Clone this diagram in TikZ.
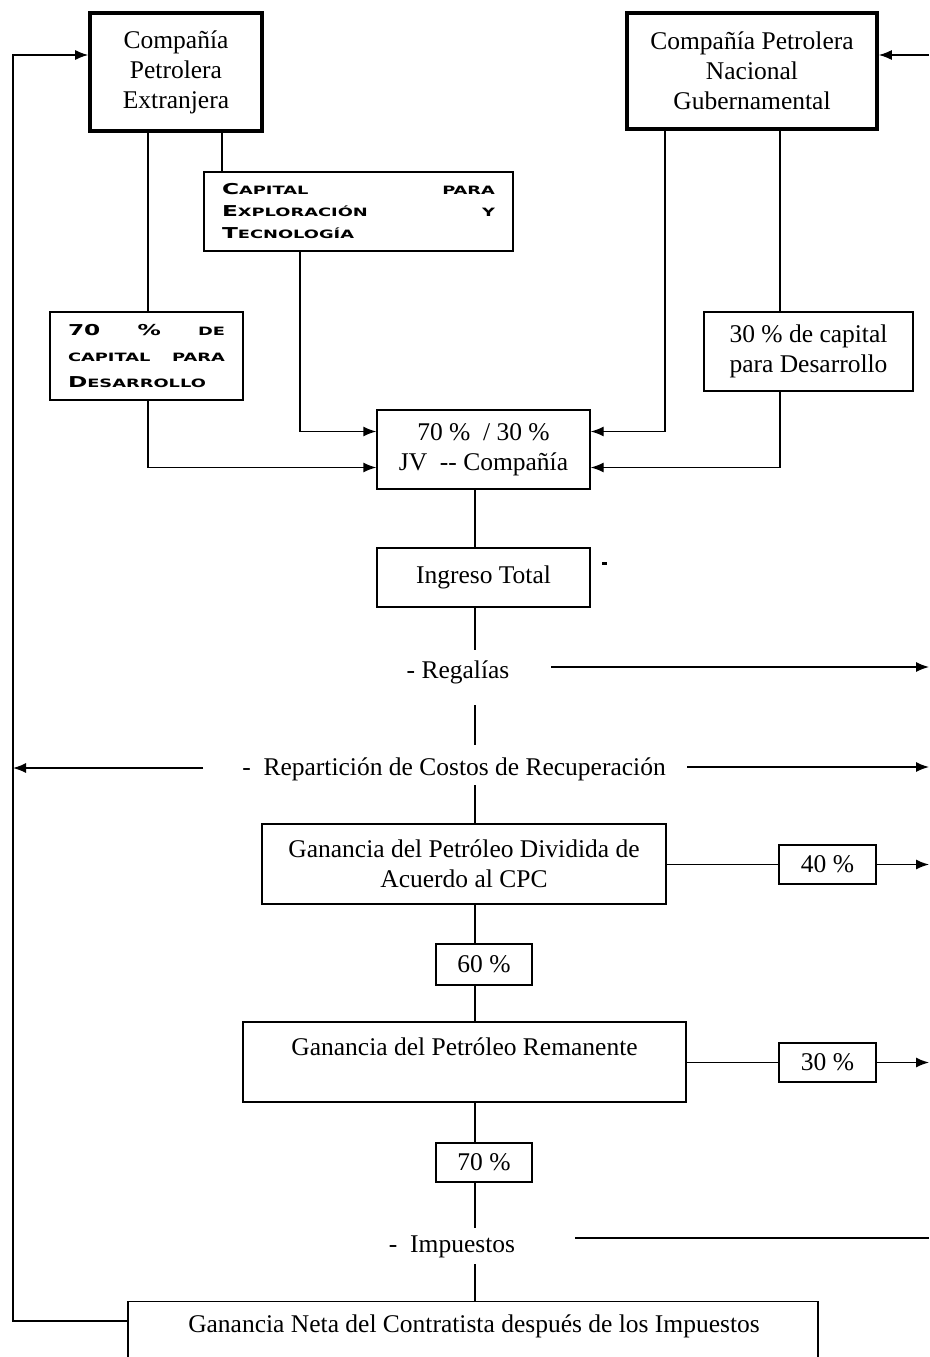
\documentclass[tikz,border=0pt]{standalone}
\usepackage{fontspec}
\setmainfont{Liberation Serif}
\newfontfamily\capsf[FakeStretch=1.55,UprightFont=* Bold]{DejaVu Sans}
\usetikzlibrary{arrows.meta,calc}
\newcommand{\bcap}[1]{{\fontsize{15}{15}\selectfont #1}}
\tikzset{
  box/.style={draw, line width=1.4pt, inner sep=0pt, align=center, font=\fontsize{25.5}{30}\selectfont},
  heavy/.style={box, line width=3.6pt},
  txt/.style={inner sep=0pt, font=\fontsize{25.5}{30}\selectfont},
  conn/.style={line width=1.4pt},
  arr/.style={conn, -{Latex[length=13pt,width=10pt]}},
}
\begin{document}
\begin{tikzpicture}[x=1pt,y=-1pt]
\clip (0,0) rectangle (929,1357);
\fill[white] (0,0) rectangle (929,1357);

% nodes
\node[heavy, minimum width=172, minimum height=118] (ext) at (176,72) {Compañía\\Petrolera\\Extranjera};
\node[heavy, minimum width=250, minimum height=116] (gov) at (752,71) {Compañía Petrolera\\Nacional\\Gubernamental};
\node[box, text width=273, inner xsep=18pt, minimum height=79, align=left,
      font=\capsf\fontsize{11.5}{22}\selectfont] (cap) at (358.5,211.5)
      {\bcap{C}APITAL\hfill PARA\\\bcap{E}XPLORACIÓN\hfill Y\\\bcap{T}ECNOLOGÍA};
\node[box, text width=157, inner xsep=18pt, minimum height=88, align=left,
      font=\capsf\fontsize{11.5}{26}\selectfont] (p70) at (146.5,356)
      {\bcap{70}\hfill\bcap{\%}\hfill DE\\CAPITAL\hfill PARA\\\bcap{D}ESARROLLO};
\node[box, minimum width=209, minimum height=79] (p30) at (808.5,351.5) {30 \% de capital\\para Desarrollo};
\node[box, minimum width=213, minimum height=79] (jv) at (483.5,449.5) {70 \%\ \ / 30 \%\\JV\ \ -{}- Compañía};
\node[box, minimum width=213, minimum height=59] (ing) at (483.5,577.5) {Ingreso Total};
\node[txt] (reg) at (458,672) {- Regalías};
\node[txt] (rep) at (454,769) {-\ \ Repartición de Costos de Recuperación};
\node[box, minimum width=404, minimum height=80] (gdiv) at (464,864) {Ganancia del Petróleo Dividida de\\Acuerdo al CPC};
\node[box, minimum width=97, minimum height=39] (p40) at (827.5,864.5) {40 \%};
\node[box, minimum width=96, minimum height=41] (p60) at (484,964.5) {60 \%};
\node[box, minimum width=443, minimum height=80] (rem) at (464.5,1062) {};
\node[txt] (remt) at (464.5,1047) {Ganancia del Petróleo Remanente};
\node[box, minimum width=97, minimum height=39] (p30b) at (827.5,1062.5) {30 \%};
\node[box, minimum width=96, minimum height=39] (p70b) at (484,1162.5) {70 \%};
\node[txt] (imp) at (452,1247) {-\ \ Impuestos};
\node[box, minimum width=690, minimum height=79, anchor=north] (net) at (473,1301) {};
\node[txt] (nett) at (474,1326) {Ganancia Neta del Contratista después de los Impuestos};

% stray mark
\fill (602,562) rectangle (607,564.5);

% coordinates
\coordinate (cx) at (475,0);
\coordinate (xa) at (148,0);
\coordinate (xb) at (222,0);
\coordinate (xc) at (300,0);
\coordinate (xd) at (665,0);
\coordinate (xe) at (780,0);
\coordinate (rr) at (929,0);
\coordinate (c1) at (475,650);
\coordinate (c2) at (475,705);
\coordinate (c3) at (475,745);
\coordinate (c4) at (475,785);
\coordinate (c5) at (475,1228);
\coordinate (c6) at (475,1264);
\coordinate (lb) at (13,1321);
\coordinate (lt) at (13,55);
\coordinate (rt) at (929,55);
\coordinate (regL) at (551,667);
\coordinate (regR) at (929,667);
\coordinate (repL1) at (203,768);
\coordinate (repL2) at (13,768);
\coordinate (repR1) at (687,767);
\coordinate (repR2) at (929,767);
\coordinate (impL) at (575,1238);
\coordinate (impR) at (929,1238);

% top connectors
\draw[conn] (ext.south -| xa) -- (p70.north -| xa);
\draw[arr] (p70.south -| xa) |- ($(jv.west)+(0,18)$);
\draw[conn] (ext.south -| xb) -- (cap.north -| xb);
\draw[arr] (cap.south -| xc) |- ($(jv.west)+(0,-18)$);
\draw[arr] (gov.south -| xd) |- ($(jv.east)+(0,-18)$);
\draw[conn] (gov.south -| xe) -- (p30.north -| xe);
\draw[arr] (p30.south -| xe) |- ($(jv.east)+(0,18)$);

% central spine
\draw[conn] (jv.south -| cx) -- (ing.north -| cx);
\draw[conn] (ing.south -| cx) -- (c1);
\draw[conn] (c2) -- (c3);
\draw[conn] (c4) -- (gdiv.north -| cx);
\draw[conn] (gdiv.south -| cx) -- (p60.north -| cx);
\draw[conn] (p60.south -| cx) -- (rem.north -| cx);
\draw[conn] (rem.south -| cx) -- (p70b.north -| cx);
\draw[conn] (p70b.south -| cx) -- (c5);
\draw[conn] (c6) -- (net.north -| cx);

% side arrows
\draw[arr] (regL) -- (regR);
\draw[arr] (repL1) -- (repL2);
\draw[arr] (repR1) -- (repR2);
\draw[conn] (impL) -- (impR);
\draw[conn] (p40.west -| gdiv.east) -- (p40.west);
\draw[arr] (p40.east) -- (p40.east -| rr);
\draw[conn] (p30b.west -| rem.east) -- (p30b.west);
\draw[arr] (p30b.east) -- (p30b.east -| rr);

% loops
\draw[arr] (lb -| net.west) -- (lb) -- (lt) -- (lt -| ext.west);
\draw[arr] (rt) -- (rt -| gov.east);
\end{tikzpicture}
\end{document}
